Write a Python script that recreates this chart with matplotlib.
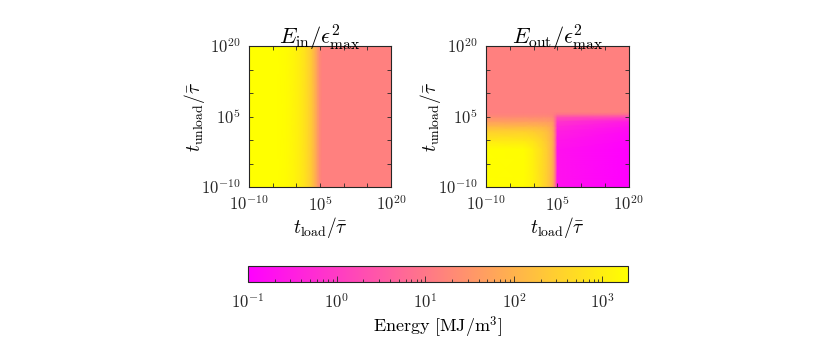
import numpy as np
import matplotlib
matplotlib.use("Agg")
import matplotlib.pyplot as plt
from matplotlib.colors import LogNorm
from matplotlib.cm import ScalarMappable
from matplotlib.ticker import LogLocator, NullLocator

plt.rcParams["mathtext.fontset"] = "cm"
plt.rcParams["font.family"] = ["DejaVu Serif"]

# ---- data (log10 of normalised times, energies in MJ/m^3) ----
# Left panel: E_in depends only on t_load
log_tload_in = [-10, -4, -2, 0, 1, 2, 3, 3.5, 4, 4.5, 5, 5.5, 20]
E_in = [1950, 1950, 1700, 1150, 850, 550, 280, 170, 90, 40, 20, 14, 14]
log_tunload_in = [-10, 20]

# Right panel: E_out on a (t_unload rows) x (t_load cols) grid
log_tload_out = [-10, -2, 0, 2, 3, 4, 4.5, 5, 20]
log_tunload_out = [-10, -2, 0, 2, 3, 4, 5, 5.5, 6, 20]
E_out = [
    [1950, 1800, 1100, 450, 250, 90, 15, 0.2, 0.1],
    [1900, 1750, 1050, 440, 245, 88, 15, 0.2, 0.1],
    [800, 750, 600, 330, 200, 80, 14, 0.25, 0.12],
    [280, 275, 250, 190, 140, 65, 12, 0.35, 0.15],
    [110, 110, 105, 95, 80, 50, 10, 0.5, 0.2],
    [45, 45, 44, 42, 40, 32, 9, 0.8, 0.3],
    [21, 21, 21, 21, 20, 18, 8, 2.5, 2],
    [16, 16, 16, 16, 16, 15, 12, 8, 7],
    [14, 14, 14, 14, 14, 14, 14, 14, 14],
    [14, 14, 14, 14, 14, 14, 14, 14, 14],
]

axis_tick_exps = [-10, -5, 0, 5, 10, 15, 20]
axis_labeled_exps = [-10, 5, 20]
cbar_tick_exps = [-1, 0, 1, 2, 3]
vmin, vmax = 0.1, 1950

titles = [r"$E_{\mathrm{in}}/\epsilon^2_{\max}$", r"$E_{\mathrm{out}}/\epsilon^2_{\max}$"]
xlabel = r"$t_{\mathrm{load}}/\bar{\tau}$"
ylabel = r"$t_{\mathrm{unload}}/\bar{\tau}$"
cbar_label = r"$\mathrm{Energy}\ [\mathrm{MJ/m}^3]$"

# ---- figure ----
fig = plt.figure(figsize=(8.3, 3.56), dpi=100)
ax1 = fig.add_axes([0.300, 0.4747, 0.171, 0.396])
ax2 = fig.add_axes([0.5855, 0.4747, 0.172, 0.396])
cax = fig.add_axes([0.2988, 0.2079, 0.458, 0.045])

norm = LogNorm(vmin=vmin, vmax=vmax)
cmap = "spring"
edge = "0.15"

Xi, Yi = np.meshgrid(10.0 ** np.array(log_tload_in, float), 10.0 ** np.array(log_tunload_in, float))
Ci = np.tile(np.array(E_in, float), (len(log_tunload_in), 1))
ax1.pcolormesh(Xi, Yi, Ci, shading="gouraud", cmap=cmap, norm=norm)

Xo, Yo = np.meshgrid(10.0 ** np.array(log_tload_out, float), 10.0 ** np.array(log_tunload_out, float))
Co = np.array(E_out, float)
ax2.pcolormesh(Xo, Yo, Co, shading="gouraud", cmap=cmap, norm=norm)

ticks = 10.0 ** np.array(axis_tick_exps, float)
ticklabels = [rf"$10^{{{e}}}$" if e in axis_labeled_exps else "" for e in axis_tick_exps]
for ax, title in zip([ax1, ax2], titles):
    ax.set_xscale("log")
    ax.set_yscale("log")
    ax.set_xlim(1e-10, 1e20)
    ax.set_ylim(1e-10, 1e20)
    ax.set_xticks(ticks)
    ax.set_xticklabels(ticklabels)
    ax.set_yticks(ticks)
    ax.set_yticklabels(ticklabels)
    ax.xaxis.set_minor_locator(NullLocator())
    ax.yaxis.set_minor_locator(NullLocator())
    ax.tick_params(direction="in", top=True, right=True, length=3, width=0.6,
                   colors=edge, labelsize=12, pad=6)
    for s in ax.spines.values():
        s.set_color(edge)
        s.set_linewidth(0.8)
    ax.set_title(title, fontsize=16, pad=1, color="black")
    ax.set_xlabel(xlabel, fontsize=14, labelpad=0)
    ax.set_ylabel(ylabel, fontsize=14, labelpad=-4)

sm = ScalarMappable(norm=norm, cmap=cmap)
cb = fig.colorbar(sm, cax=cax, orientation="horizontal")
cb.set_ticks(10.0 ** np.array(cbar_tick_exps, float))
cb.set_ticklabels([rf"$10^{{{e}}}$" for e in cbar_tick_exps])
cb.ax.xaxis.set_minor_locator(LogLocator(base=10, subs=np.arange(2, 10)))
cb.ax.tick_params(which="major", direction="in", length=4, width=0.6, colors=edge, labelsize=12, pad=8)
cb.ax.tick_params(which="minor", direction="in", length=2, width=0.6, colors=edge)
cb.outline.set_edgecolor(edge)
cb.outline.set_linewidth(0.8)
cb.set_label(cbar_label, fontsize=13, labelpad=2)

fig.savefig("out.png", dpi=100)
